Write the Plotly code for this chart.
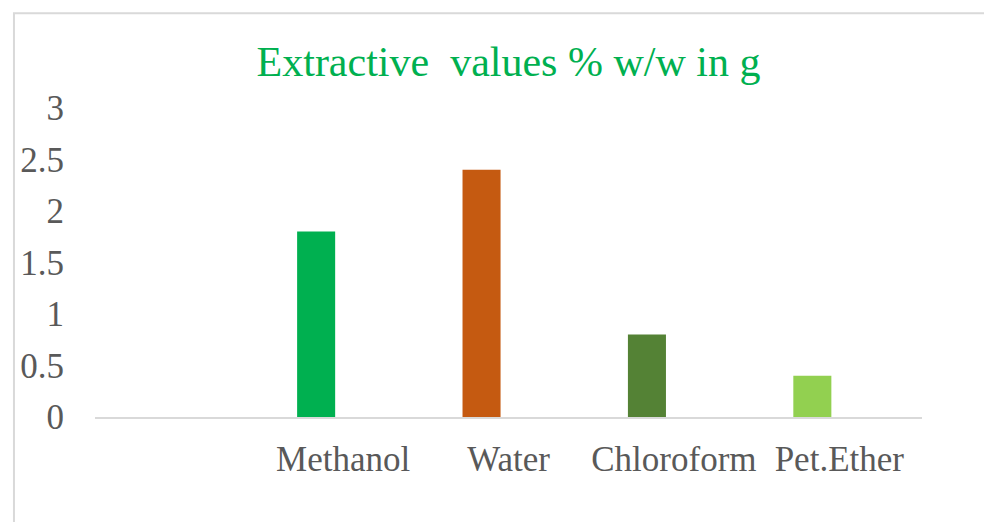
import plotly.graph_objects as go

solvents = ["Methanol", "Water", "Chloroform", "Pet.Ether"]
extract_values = [1.8, 2.4, 0.8, 0.4]
bar_colors = ["#00B050", "#C55A11", "#548235", "#92D050"]
y_ticks = [0, 0.5, 1, 1.5, 2, 2.5, 3]
y_tick_labels = ["0", "0.5", "1", "1.5", "2", "2.5", "3"]

serif = "Liberation Serif"

fig = go.Figure()
fig.add_trace(
    go.Bar(
        x=solvents,
        y=extract_values,
        marker=dict(color=bar_colors, line=dict(width=0)),
        width=0.23,
        offset=-0.278,
        showlegend=False,
    )
)

fig.update_layout(
    width=992,
    height=522,
    margin=dict(l=83, r=78, t=100, b=113),
    paper_bgcolor="white",
    plot_bgcolor="white",
    font=dict(family=serif, color="#595959"),
    title=dict(
        text="Extractive  values % w/w in g",
        font=dict(family=serif, size=42, color="#00B050"),
        x=0.5,
        xref="paper",
        xanchor="center",
        y=1 - 53 / 522,
        yref="container",
        yanchor="middle",
    ),
    xaxis=dict(
        type="category",
        range=[-1.5, 3.5],
        showgrid=False,
        showline=True,
        linecolor="#D9D9D9",
        linewidth=2,
        ticks="",
        tickfont=dict(family=serif, size=35, color="#595959"),
        ticklabelstandoff=10,
        zeroline=False,
    ),
    yaxis=dict(
        range=[0, 3],
        tickvals=y_ticks,
        ticktext=y_tick_labels,
        showgrid=False,
        showline=False,
        zeroline=False,
        ticks="",
        tickfont=dict(family=serif, size=35, color="#595959"),
        ticklabelstandoff=30,
    ),
    shapes=[
        # chart area border, cut off at the right and bottom like the source image
        dict(
            type="rect",
            xref="paper",
            yref="paper",
            x0=-0.098,
            x1=1.3,
            y0=-0.6,
            y1=1.307,
            line=dict(color="#D9D9D9", width=2),
            fillcolor="rgba(0,0,0,0)",
            layer="below",
        )
    ],
)

fig.write_html("out.html")
